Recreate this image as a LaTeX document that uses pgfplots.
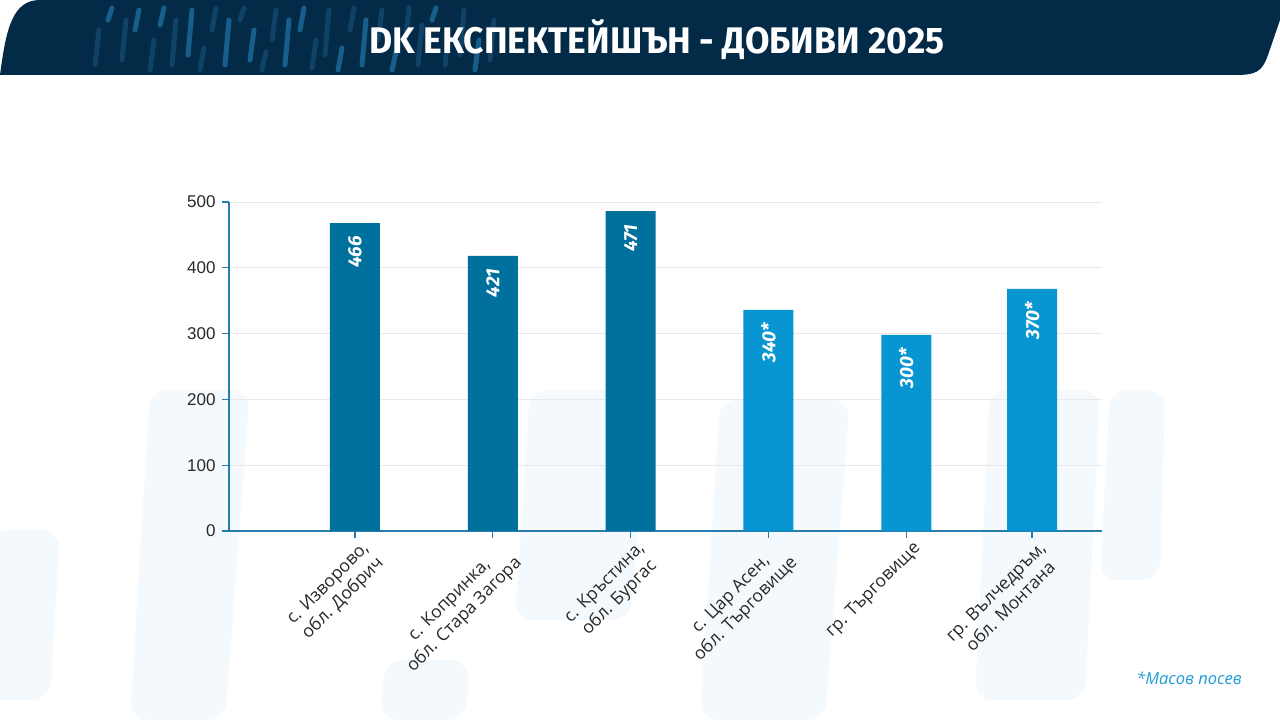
\documentclass[border=0pt]{standalone}
\usepackage{pgfplots}
\pgfplotsset{compat=1.18}
\usepackage{pgfplotstable}
\usepackage{graphicx}
\usepackage{fontspec}
\setmainfont{Open Sans}
\newfontfamily\titlefont{Fira Sans}
\newfontfamily\tickfont{Liberation Sans}
\definecolor{navy}{RGB}{3,42,70}
\definecolor{bardark}{RGB}{0,112,156}
\definecolor{barlight}{RGB}{8,150,210}
\definecolor{axisblue}{RGB}{40,125,175}
\definecolor{faint}{RGB}{244,249,253}
\definecolor{stripeA}{RGB}{22,95,140}
\definecolor{stripeB}{RGB}{16,66,102}
\definecolor{note}{RGB}{30,155,215}
\definecolor{ticktext}{RGB}{40,40,40}

\pgfplotstableread{
x y lab
0 468 466
1 418 421
2 486 471
}\dataA
\pgfplotstableread{
x y lab
3 336 340*
4 298 300*
4.913 368 370*
}\dataB

\begin{document}
\begin{tikzpicture}[x=1pt,y=1pt]
\useasboundingbox (0,0) rectangle (1280,720);
\fill[white] (0,0) rectangle (1280,720);
% faint background shapes
\begin{scope}[rounded corners=18pt]
\fill[faint] (-20,20) -- (-10,190) -- (60,190) -- (50,20) -- cycle;
\fill[faint] (130,0) -- (150,330) -- (250,330) -- (225,0) -- cycle;
\fill[faint] (515,100) -- (530,330) -- (650,330) -- (630,100) -- cycle;
\fill[faint] (700,0) -- (720,320) -- (850,320) -- (825,0) -- cycle;
\fill[faint] (975,20) -- (990,330) -- (1100,330) -- (1085,20) -- cycle;
\fill[faint] (1100,140) -- (1110,330) -- (1165,330) -- (1160,140) -- cycle;
\fill[faint] (380,0) -- (385,60) -- (470,60) -- (465,0) -- cycle;
\end{scope}
% header
\fill[navy] (0,645) .. controls (6,690) and (12,720) .. (40,720) -- (1280,720) -- (1280,700) -- (1268,665) .. controls (1262,648) and (1256,645) .. (1235,645) -- cycle;
\begin{scope}[line cap=round, line width=5pt]
\foreach \x/\a/\b/\c in {95/655/690/stripeB,108/700/712/stripeA,122/660/700/stripeB,135/690/710/stripeA,150/650/680/stripeB,160/695/712/stripeA,172/655/700/stripeB,188/665/710/stripeA,200/650/672/stripeB,212/690/712/stripeB,225/655/700/stripeA,240/700/712/stripeB,250/660/690/stripeA,262/650/668/stripeB,272/680/710/stripeB,285/655/700/stripeA,300/690/712/stripeA,312/652/680/stripeB,325/665/710/stripeB,338/650/672/stripeA,350/690/712/stripeB,362/655/700/stripeA,378/680/710/stripeB,392/650/668/stripeA,405/675/712/stripeB,418/655/695/stripeB,432/700/712/stripeA,445/655/690/stripeB,460/665/710/stripeB,475/650/680/stripeA,490/660/700/stripeB}
  \draw[\c] (\x,\a) -- (\x+4,\b);
\end{scope}
\node[white, font=\titlefont\bfseries\fontsize{37}{40}\selectfont] at (657,680) {\scalebox{0.96}[1]{DK ЕКСПЕКТЕЙШЪН - ДОБИВИ 2025}};

\begin{axis}[
  at={(229pt,189pt)}, anchor=south west, scale only axis,
  width=873pt, height=329pt,
  xmin=-0.914, xmax=5.42, ymin=0, ymax=500,
  axis x line*=bottom, axis y line*=left,
  axis line style={axisblue, line width=1.3pt, -},
  tick style={axisblue, line width=1.3pt},
  tick align=outside, major tick length=7pt,
  ytick={0,100,200,300,400,500},
  ymajorgrids, grid style={gray!18, line width=0.8pt},
  xtick={0,1,2,3,4,4.913},
  xticklabels={{с. Изворово,\\обл. Добрич},{с. Копринка,\\обл. Стара Загора},{с. Кръстина,\\обл. Бургас},{с. Цар Асен,\\обл. Търговище},{гр. Търговище},{гр. Вълчедръм,\\обл. Монтана}},
  xticklabel style={rotate=45, anchor=north east, align=center, font=\fontsize{17.5}{21}\selectfont, text=ticktext, xshift=6pt, yshift=-2pt},
  yticklabel style={font=\tickfont\fontsize{17}{20}\selectfont, text=ticktext, xshift=-3pt},
  /pgf/number format/assume math mode=true,
  ybar, bar width=50pt, bar shift=0pt,
  point meta=explicit symbolic,
  nodes near coords,
  every node near coord/.append style={rotate=90, anchor=east, inner xsep=13pt, text=white, font=\titlefont\bfseries\itshape\fontsize{19}{21}\selectfont},
  clip=false,
]
\addplot[fill=bardark, draw=none] table[x=x, y=y, meta=lab] {\dataA};
\addplot[fill=barlight, draw=none] table[x=x, y=y, meta=lab] {\dataB};
\end{axis}
\node[note, font=\itshape\fontsize{16.5}{19}\selectfont] at (1189,42) {*Масов посев};
\end{tikzpicture}
\end{document}
